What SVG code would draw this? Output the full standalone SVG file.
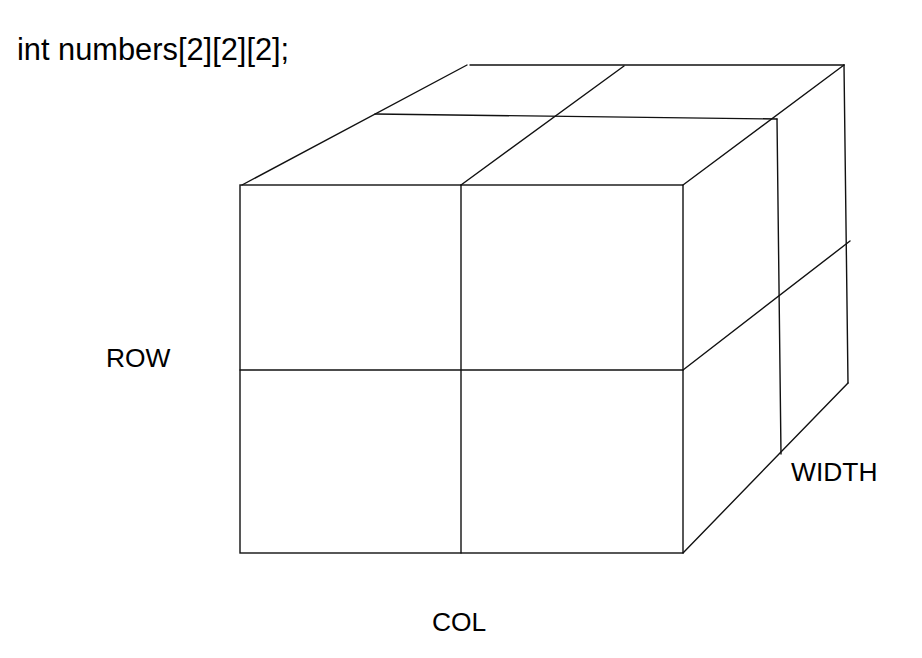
<svg xmlns="http://www.w3.org/2000/svg" width="922" height="658" viewBox="0 0 922 658">
<style>
.l{stroke:#111;stroke-width:1.4;fill:none;stroke-linecap:round}
.t{font-family:"Liberation Sans",Arial,sans-serif;fill:#000}
</style>
<rect width="922" height="658" fill="#fff"/>
<g id="cube">
<g id="front">
<rect class="l" x="240" y="185" width="443" height="368"/>
<line class="l" x1="461" y1="185" x2="461" y2="553"/>
<line class="l" x1="240" y1="370" x2="683" y2="370"/>
</g>
<g id="top">
<line class="l" x1="242" y1="185" x2="467" y2="65"/>
<line class="l" x1="470" y1="65" x2="844" y2="65"/>
<line class="l" x1="375" y1="114" x2="777" y2="119"/>
<line class="l" x1="461" y1="185" x2="624" y2="66"/>
<line class="l" x1="683" y1="185" x2="844" y2="65"/>
</g>
<g id="side">
<line class="l" x1="777" y1="119" x2="781" y2="454"/>
<line class="l" x1="844" y1="65" x2="848" y2="383"/>
<line class="l" x1="683" y1="370" x2="850" y2="241"/>
<line class="l" x1="683" y1="553" x2="848" y2="383"/>
</g>
</g>
<g id="labels">
<text class="t" x="17" y="60" font-size="30.8">int numbers[2][2][2];</text>
<text class="t" x="106" y="367" font-size="26.4">ROW</text>
<text class="t" x="791" y="481" font-size="26.4">WIDTH</text>
<text class="t" x="432" y="631" font-size="26.4">COL</text>
</g>
</svg>
